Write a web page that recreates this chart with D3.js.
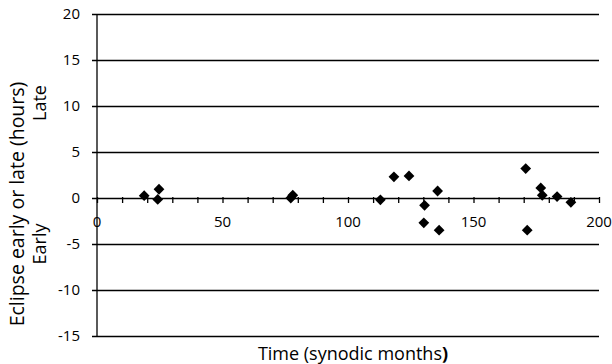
<!DOCTYPE html>
<html>
<head>
<meta charset="utf-8">
<script src="https://cdn.jsdelivr.net/npm/d3@7"></script>
<style>
  body { margin: 0; background: #fff; }
  text { font-family: "Open Sans", "Noto Sans", sans-serif; fill: #000; }
</style>
</head>
<body>
<script>
// months since start (synodic months)
var months = [18.8, 24.7, 24.2, 77.2, 78.0, 112.9, 118.3, 124.3, 130.5, 130.2, 135.7, 136.3, 170.8, 171.4, 176.8, 177.4, 183.3, 188.8];
// eclipse timing error (hours)
var hours = [0.25, 0.95, -0.15, 0.0, 0.3, -0.2, 2.3, 2.4, -0.8, -2.7, 0.76, -3.5, 3.2, -3.5, 1.1, 0.3, 0.15, -0.47];
var yTicks = [20, 15, 10, 5, 0, -5, -10, -15];
var xTicks = [0, 50, 100, 150, 200];

var width = 612, height = 364;
//plot frame edges (window.top is reserved, so prefixed names)
var pLeft = 97, pRight = 599, pTop = 14, pBottom = 336;

var svg = d3.select("body").append("svg")
    .attr("width", width)
    .attr("height", height);

var x = d3.scaleLinear().domain([0, 200]).range([pLeft, pRight]);
var y = d3.scaleLinear().domain([-15, 20]).range([pBottom, pTop]);

//horizontal gridlines + y tick labels (plain hyphen for negatives)
svg.append("g")
    .attr("transform", "translate(" + pLeft + ",0)")
    .call(d3.axisLeft(y).tickValues(yTicks).tickSize(-(pRight - pLeft)).tickSizeOuter(0)
      .tickPadding(17).tickFormat(function(d){ return String(d); }))
    .call(function(g){
      g.select(".domain").remove();
      g.selectAll(".tick line").attr("stroke", "#000").attr("stroke-width", 1.3).attr("x1", -5);
      g.selectAll(".tick text").attr("font-size", 15).attr("font-family", "Open Sans");
    });

//vertical axis line
svg.append("line")
    .attr("x1", pLeft).attr("x2", pLeft)
    .attr("y1", pTop).attr("y2", pBottom)
    .attr("stroke", "#000").attr("stroke-width", 1.3);

//x axis sitting on y = 0
svg.append("g")
    .attr("transform", "translate(0," + y(0) + ")")
    .call(d3.axisBottom(x).tickValues(d3.range(0, 201, 10)).tickSize(5).tickSizeOuter(0).tickFormat(""))
    .call(function(g){
      g.select(".domain").remove();
      g.selectAll(".tick line").attr("stroke", "#000").attr("stroke-width", 1.3).attr("y1", -1);
    });

svg.append("g").selectAll("text")
    .data(xTicks)
    .enter()
    .append("text")
    .attr("x", function(d){ return x(d); })
    .attr("y", y(0) + 29)
    .attr("text-anchor", "middle")
    .attr("font-size", 15)
    .text(function(d){ return d; });

//diamond markers
var diamond = d3.symbol().type(d3.symbolSquare).size(58);
svg.append("g").selectAll("path")
    .data(months)
    .enter()
    .append("path")
    .attr("d", diamond)
    .attr("transform", function(d, i){ return "translate(" + x(d) + "," + y(hours[i]) + ") rotate(45)"; })
    .attr("fill", "#000");

//axis titles
var xt = svg.append("text")
    .attr("x", 353)
    .attr("y", 360)
    .attr("text-anchor", "middle")
    .attr("font-size", 18);
xt.append("tspan").text("Time (synodic months");
xt.append("tspan").attr("font-weight", "bold").text(")");

svg.append("text")
    .attr("transform", "translate(24,204) rotate(-90)")
    .attr("text-anchor", "middle")
    .attr("font-size", 19.5)
    .text("Eclipse early or late (hours)");

svg.append("text")
    .attr("transform", "translate(46,103) rotate(-90)")
    .attr("text-anchor", "middle")
    .attr("font-size", 18)
    .text("Late");

svg.append("text")
    .attr("transform", "translate(46,244) rotate(-90)")
    .attr("text-anchor", "middle")
    .attr("font-size", 18)
    .text("Early");
</script>
</body>
</html>
